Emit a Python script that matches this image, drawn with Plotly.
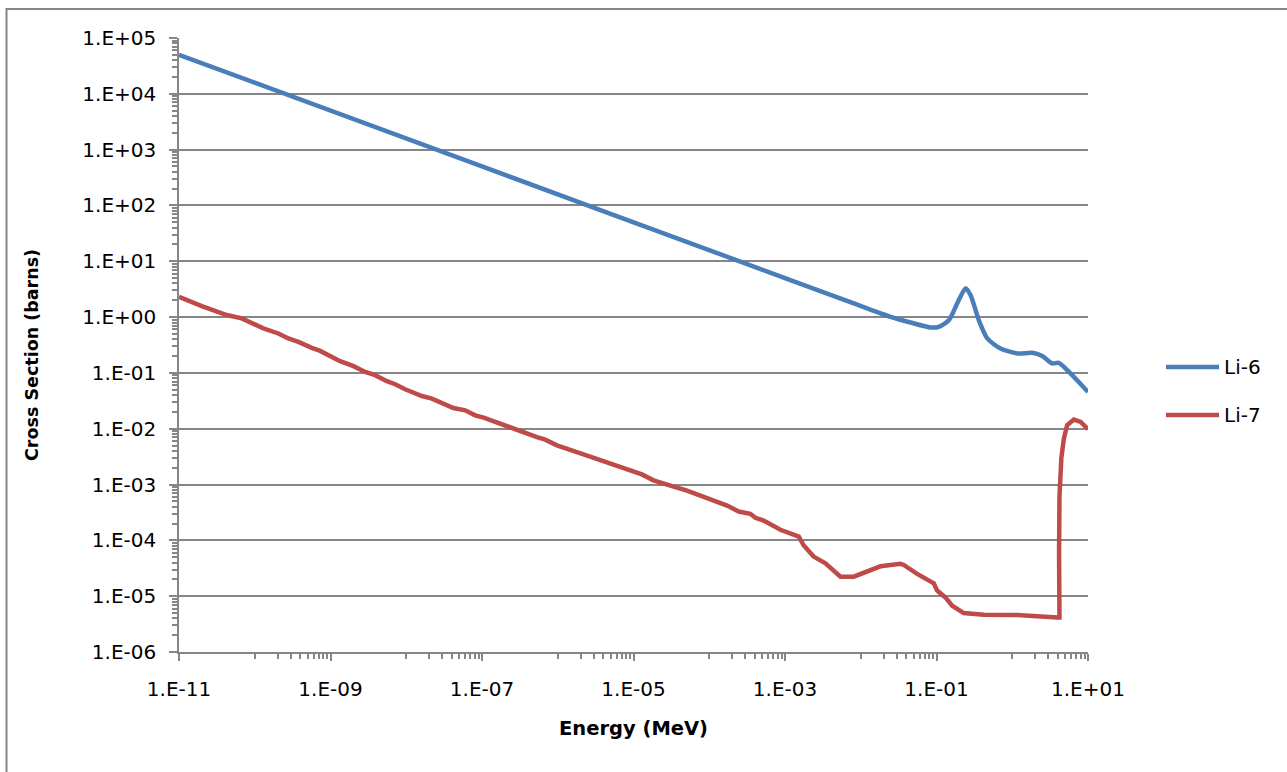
import plotly.graph_objects as go

# Li-6 cross section (barns) vs neutron energy (MeV)
li6_energy = [1e-11, 1e-7, 1e-3, 7.3e-3, 2.47e-2, 4.54e-2, 8.33e-2, 0.107, 0.1455,
              0.1877, 0.2415, 0.281, 0.362, 0.468, 0.70, 1.16, 1.84, 2.49, 3.37,
              4.12, 5.32, 10.0]
li6_xs = [5.0e4, 500, 5.0, 1.85, 1.01, 0.80, 0.653, 0.67, 0.88,
          1.76, 3.27, 2.48, 0.88, 0.415, 0.274, 0.223, 0.229, 0.20, 0.148,
          0.151, 0.112, 0.0456]

# Li-7 cross section (barns) vs neutron energy (MeV)
li7_energy = [1e-11, 2.0e-11, 4.27e-11, 6.73e-11, 1.30e-10, 2.05e-10, 2.78e-10,
              3.77e-10, 5.66e-10, 7.30e-10, 1.34e-9, 2.01e-9, 2.87e-9, 3.88e-9,
              5.54e-9, 7.14e-9, 9.66e-9, 1.61e-8, 2.18e-8, 4.20e-8, 6.0e-8,
              8.13e-8, 1.05e-7, 2.13e-7, 5.31e-7, 6.84e-7, 9.76e-7, 2.19e-6,
              5.46e-6, 7.05e-6, 1.0e-5, 1.29e-5, 1.84e-5, 2.77e-5, 3.39e-5,
              5.09e-5, 9.35e-5, 1.40e-4, 1.72e-4, 2.45e-4, 3.49e-4, 4.06e-4,
              5.23e-4, 8.7e-4, 1.07e-3, 1.52e-3, 1.77e-3, 2.39e-3, 3.42e-3,
              5.40e-3, 8.08e-3, 0.0110, 0.0182, 0.0334, 0.0370, 0.0556, 0.0921,
              0.102, 0.131, 0.161, 0.229, 0.421, 1.16, 3.93, 4.20, 4.15, 4.20,
              4.45, 4.80, 5.30, 6.50, 8.0, 9.3, 10.0]
li7_xs = [2.31, 1.57, 1.09, 0.948, 0.627, 0.509, 0.415,
          0.360, 0.281, 0.248, 0.162, 0.132, 0.104, 0.091,
          0.071, 0.0627, 0.0509, 0.0386, 0.0347, 0.0235, 0.0214,
          0.0174, 0.0158, 0.0110, 7.1e-3, 6.37e-3, 5.03e-3, 3.47e-3,
          2.30e-3, 2.05e-3, 1.67e-3, 1.52e-3, 1.19e-3, 1.03e-3, 9.2e-4,
          7.8e-4, 5.7e-4, 4.63e-4, 4.2e-4, 3.29e-4, 2.99e-4, 2.54e-4,
          2.26e-4, 1.55e-4, 1.40e-4, 1.17e-4, 8.07e-5, 5.12e-5, 3.88e-5,
          2.24e-5, 2.24e-5, 2.67e-5, 3.43e-5, 3.79e-5, 3.63e-5, 2.51e-5, 1.70e-5,
          1.26e-5, 9.5e-6, 6.75e-6, 4.99e-6, 4.65e-6, 4.6e-6, 4.16e-6, 4.15e-6, 6e-5, 6e-4,
          3.0e-3, 6.6e-3, 0.0115, 0.0146, 0.0132, 0.0105, 0.0098]

series_names = ["Li-6", "Li-7"]
series_colors = ["#4A7EBB", "#BE4B48"]

x_title = "Energy (MeV)"
y_title = "Cross Section (barns)"

# Axis ticks
x_tick_exps = [-11, -9, -7, -5, -3, -1, 1]
y_tick_exps = list(range(-6, 6))
x_minor_exps = [-10, -8, -6, -4, -2, 0]


def sci_label(e):
    return f"1.E{e:+03d}"


x_tickvals = [10.0 ** e for e in x_tick_exps]
x_ticktext = [sci_label(e) for e in x_tick_exps]
y_tickvals = [10.0 ** e for e in y_tick_exps]
y_ticktext = [sci_label(e) for e in y_tick_exps]
x_minor_vals = [m * 10.0 ** e for e in x_minor_exps for m in range(1, 10)]
y_minor_vals = [m * 10.0 ** e for e in range(-6, 5) for m in range(2, 10)]

GRID = "#868686"
FONT = "DejaVu Sans"
TICK_SIZE = 20

# plot-area geometry in pixels
W, H = 1287, 772
ML, MR, MT, MB = 179, 199, 38, 120
PW, PH = W - ML - MR, H - MT - MB


def px_x(px):
    return (px - ML) / PW


def px_y(py):
    return (H - MB - py) / PH


fig = go.Figure()
fig.add_trace(go.Scatter(x=li6_energy, y=li6_xs, mode="lines", name=series_names[0],
                         line=dict(color=series_colors[0], width=4.5, shape="spline",
                                   smoothing=0.7),
                         showlegend=False))
fig.add_trace(go.Scatter(x=li7_energy, y=li7_xs, mode="lines", name=series_names[1],
                         line=dict(color=series_colors[1], width=4.5),
                         showlegend=False))

fig.update_xaxes(type="log", range=[-11, 1], tickmode="array",
                 tickvals=x_tickvals, ticktext=x_ticktext,
                 showgrid=False, zeroline=False,
                 showline=True, linecolor=GRID, linewidth=1.5,
                 ticks="outside", ticklen=7, tickcolor=GRID, tickwidth=1.5,
                 ticklabelstandoff=11,
                 tickfont=dict(family=FONT, size=TICK_SIZE, color="#000000"),
                 minor=dict(tickmode="array", tickvals=x_minor_vals, ticks="outside",
                            ticklen=5, tickcolor=GRID, tickwidth=1.5, showgrid=False),
                 title=dict(text=x_title, standoff=22,
                            font=dict(family=FONT, size=19.5, color="#000000",
                                      weight="bold")))
fig.update_yaxes(type="log", range=[-6, 5], tickmode="array",
                 tickvals=y_tickvals, ticktext=y_ticktext,
                 showgrid=True, gridcolor=GRID, gridwidth=1.5, zeroline=False,
                 showline=True, linecolor=GRID, linewidth=1.5,
                 ticks="outside", ticklen=8, tickcolor=GRID, tickwidth=1.5,
                 ticklabelstandoff=9,
                 tickfont=dict(family=FONT, size=TICK_SIZE, color="#000000"),
                 minor=dict(tickmode="array", tickvals=y_minor_vals, ticks="outside",
                            ticklen=5, tickcolor=GRID, tickwidth=1.5, showgrid=False))

# chart border
shapes = [dict(type="rect", xref="paper", yref="paper",
               x0=px_x(6.5), x1=px_x(1300), y0=px_y(790), y1=px_y(9),
               line=dict(color=GRID, width=2), fillcolor="rgba(0,0,0,0)", layer="below")]

annotations = [dict(xref="paper", yref="paper", x=px_x(32), y=px_y(355),
                    text=f"<b>{y_title}</b>", textangle=-90, showarrow=False,
                    xanchor="center", yanchor="middle",
                    font=dict(family=FONT, size=17.5, color="#000000"))]

# legend
legend_rows = [367, 415]
for name, color, row in zip(series_names, series_colors, legend_rows):
    shapes.append(dict(type="line", xref="paper", yref="paper",
                       x0=px_x(1166), x1=px_x(1219), y0=px_y(row), y1=px_y(row),
                       line=dict(color=color, width=4.5)))
    annotations.append(dict(xref="paper", yref="paper", x=px_x(1222), y=px_y(row),
                            text=name, showarrow=False, xanchor="left", yanchor="middle",
                            font=dict(family=FONT, size=TICK_SIZE, color="#000000")))

fig.update_layout(width=W, height=H,
                  margin=dict(l=ML, r=MR, t=MT, b=MB, autoexpand=False),
                  paper_bgcolor="white", plot_bgcolor="white",
                  shapes=shapes, annotations=annotations)

fig.write_html("out.html")
